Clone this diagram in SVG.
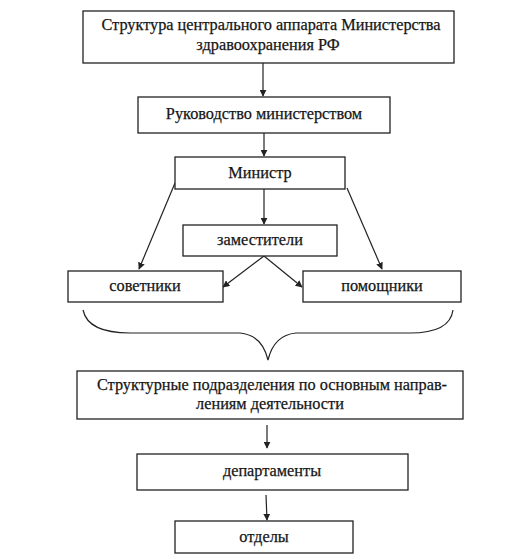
<svg xmlns="http://www.w3.org/2000/svg" width="508" height="559" viewBox="0 0 508 559">
<defs>
<style>
.box{fill:#fff;stroke:#222;stroke-width:1.3}
.t{font-family:'Liberation Serif','DejaVu Serif','Times New Roman',serif;font-size:16.3px;fill:#161616;stroke:#161616;stroke-width:0.25;text-anchor:middle}
.c{fill:none;stroke:#222;stroke-width:1.2}
</style>
<marker id="ah" viewBox="0 0 10 10" refX="9" refY="5" markerWidth="7" markerHeight="7" orient="auto" markerUnits="userSpaceOnUse">
<path d="M0,0 L10,5 L0,10 Z" fill="#222"/>
</marker>
</defs>
<rect width="508" height="559" fill="#fff"/>
<g id="connectors">
<line class="c" x1="263" y1="63" x2="263" y2="96" marker-end="url(#ah)"/>
<line class="c" x1="264" y1="133" x2="264" y2="156" marker-end="url(#ah)"/>
<line class="c" x1="264" y1="189" x2="264" y2="224" marker-end="url(#ah)"/>
<line class="c" x1="175" y1="183" x2="139" y2="269" marker-end="url(#ah)"/>
<line class="c" x1="347" y1="188" x2="382" y2="269" marker-end="url(#ah)"/>
<line class="c" x1="264" y1="256" x2="223" y2="287" marker-end="url(#ah)"/>
<line class="c" x1="264" y1="256" x2="302" y2="287" marker-end="url(#ah)"/>
<path class="c" d="M83,310 Q88,333 130,333 L240,333 Q262,335 268,360 Q274,335 296,333 L410,333 Q450,333 453,310"/>
<line class="c" x1="267" y1="425" x2="267" y2="448" marker-end="url(#ah)"/>
<line class="c" x1="266" y1="495" x2="267" y2="520" marker-end="url(#ah)"/>
</g>
<g id="n1"><rect class="box" x="83" y="11" width="371" height="52"/><text class="t" x="271" y="30">Структура центрального аппарата Министерства</text><text class="t" x="268" y="50">здравоохранения  РФ</text></g>
<g id="n2"><rect class="box" x="138" y="97" width="252" height="36"/><text class="t" x="264" y="119">Руководство министерством</text></g>
<g id="n3"><rect class="box" x="175" y="157" width="170" height="32"/><text class="t" x="260" y="178">Министр</text></g>
<g id="n4"><rect class="box" x="183" y="225" width="154" height="31"/><text class="t" x="260" y="245">заместители</text></g>
<g id="n5"><rect class="box" x="68" y="271" width="155" height="31"/><text class="t" x="145" y="291">советники</text></g>
<g id="n6"><rect class="box" x="303" y="271" width="158" height="31"/><text class="t" x="382" y="291">помощники</text></g>
<g id="n7"><rect class="box" x="77" y="371" width="386" height="48"/><text class="t" x="272" y="390">Структурные подразделения по основным направ-</text><text class="t" x="270" y="409">лениям деятельности</text></g>
<g id="n8"><rect class="box" x="137" y="454" width="271" height="36"/><text class="t" x="272" y="476">департаменты</text></g>
<g id="n9"><rect class="box" x="175" y="521" width="178" height="32"/><text class="t" x="264" y="542">отделы</text></g>
</svg>
